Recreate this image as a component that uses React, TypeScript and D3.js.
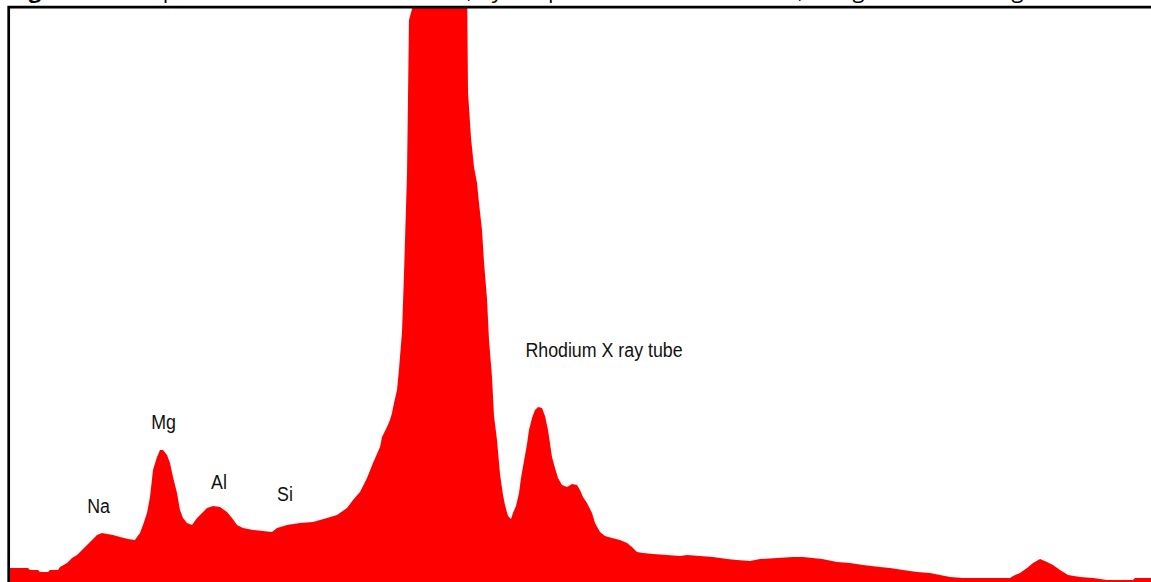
import { scaleLinear, area, curveLinear } from "d3";

// XRF spectrum, channel number vs. intensity (arbitrary counts)
const channel = [
  0, 18, 20, 28, 30, 38, 40, 48, 50, 57,
  62, 67, 72, 77, 82, 87, 92, 97, 103, 110,
  118, 125, 127, 130, 133, 137, 140, 143, 147, 150,
  153, 157, 160, 163, 167, 170, 173, 177, 182, 187,
  192, 197, 203, 210, 217, 222, 227, 233, 243, 253,
  262, 267, 277, 290, 303, 317, 327, 337, 343, 350,
  357, 363, 370, 372, 375, 377, 380, 382, 384, 387,
  389, 392, 394, 397, 399, 402, 405, 410, 420, 430,
  440, 450, 457, 458, 461, 464, 467, 469, 472, 474,
  477, 479, 482, 484, 487, 490, 493, 495, 498, 501,
  503, 506, 509, 511, 514, 517, 519, 522, 525, 528,
  532, 535, 538, 542, 545, 548, 552, 557, 562, 567,
  570, 573, 577, 582, 585, 590, 595, 602, 610, 617,
  622, 627, 633, 643, 657, 670, 677, 690, 703, 717,
  727, 740, 750, 767, 783, 793, 812, 827, 840, 853,
  870, 880, 893, 907, 920, 940, 953, 973, 1000, 1003,
  1010, 1017, 1023, 1030, 1037, 1043, 1050, 1058, 1070, 1083,
  1097, 1123, 1125, 1141,
];
const counts = [
  14, 14, 12, 12, 10, 10, 12, 12, 15, 19,
  24, 27, 32, 37, 42, 47, 49, 48, 47, 45,
  43, 42, 45, 49, 57, 69, 85, 112, 125, 132,
  132, 127, 119, 105, 89, 72, 64, 59, 57, 64,
  69, 74, 76, 75, 70, 64, 57, 54, 52, 51,
  50, 54, 57, 59, 60, 64, 67, 74, 82, 90,
  104, 119, 135, 145, 151, 155, 162, 169, 179, 192,
  213, 250, 308, 407, 562, 573, 620, 690, 760, 800,
  780, 700, 610, 490, 444, 415, 399, 379, 352, 320,
  283, 242, 205, 166, 142, 108, 87, 77, 66, 63,
  69, 76, 89, 104, 121, 138, 152, 164, 172, 175,
  174, 166, 152, 125, 114, 104, 97, 95, 98, 97,
  92, 85, 79, 69, 59, 50, 46, 44, 42, 39,
  35, 30, 29, 28, 27, 26, 27, 26, 25, 23,
  22, 21, 23, 24, 25, 25, 23, 20, 19, 17,
  15, 14, 12, 10, 9, 5, 4, 4, 4, 6,
  9, 14, 19, 23, 20, 17, 12, 7, 5, 4,
  2, 2, 4, 4,
];

// peak labels, placed in data space (channel, counts)
const labelText = ["Na", "Mg", "Al", "Si", "Rhodium X ray tube"];
const labelChannel = [88.5, 153.5, 209, 275, 594];
const labelCount = [69, 153, 93, 81, 225];

const W = 1151;
const H = 582;
const plotLeft = 10;
const plotTop = 8;

export default function App() {
  const x = scaleLinear().domain([0, 1141]).range([plotLeft, W]);
  const y = scaleLinear().domain([0, 574]).range([H, plotTop]);

  const pts = channel.map((c, i) => [c, counts[i]] as [number, number]);
  const areaGen = area<[number, number]>()
    .x((d) => x(d[0]))
    .y0(y(0))
    .y1((d) => y(d[1]))
    .curve(curveLinear);

  return (
    <svg
      width={W}
      height={H}
      style={{ position: "absolute", left: 0, top: 0, background: "#fff" }}
    >
      <defs>
        <clipPath id="plotClip">
          <rect x={plotLeft} y={plotTop} width={W - plotLeft} height={H - plotTop} />
        </clipPath>
      </defs>

      {/* caption, mostly cut off above the frame */}
      <text x={10} y={-2} fontFamily="'Open Sans', sans-serif" fontSize={22} fill="#000">
        <tspan fontWeight="bold">Figure 3:</tspan>
        <tspan> XRF spectrum of the bulk sediment, by the portable XRF instrument, using a rhodium target</tspan>
      </text>

      <path d={areaGen(pts) ?? ""} fill="#ff0000" clipPath="url(#plotClip)" />

      {labelText.map((t, i) => (
        <text
          key={t}
          transform={`translate(${x(labelChannel[i])},${y(labelCount[i])}) scale(0.89,1)`}
          textAnchor="middle"
          fontFamily="'Liberation Sans', Arial, sans-serif"
          fontSize={20}
          fill="#111"
        >
          {t}
        </text>
      ))}

      {/* frame: only left and top edges are in view */}
      <path
        d={`M${plotLeft - 1.3},${H} V${plotTop - 0.8} H${W}`}
        fill="none"
        stroke="#000"
        strokeWidth={2.7}
      />
    </svg>
  );
}
